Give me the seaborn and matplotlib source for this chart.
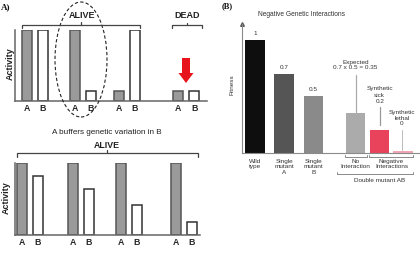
import matplotlib
matplotlib.use("Agg")
import matplotlib.pyplot as plt
import seaborn as sns
import pandas as pd
import numpy as np
from matplotlib.patches import Ellipse, Polygon
from matplotlib.lines import Line2D

# ---------------- data ----------------
genes = ["A", "B"]
top_A = [1.0, 1.0, 0.14, 0.14]
top_B = [1.0, 0.14, 1.0, 0.14]
bot_A = [1.0, 1.0, 1.0, 1.0]
bot_B = [0.82, 0.64, 0.42, 0.18]

b_labels = ["Wild\ntype", "Single\nmutant\nA", "Single\nmutant\nB",
            "No\nInteraction", "Synthetic sick", "Synthetic lethal"]
b_values = [1.0, 0.7, 0.5, 0.35, 0.2, 0.0]
b_value_text = ["1", "0.7", "0.5", "0.35", "0.2", "0"]

# ---------------- layout (not data) ----------------
top_pair_pos = [0.0, 1.04, 2.0, 3.29]
bot_pair_pos = [0.0, 0.99, 1.93, 3.0]
b_pos = [0.0, 1.0, 2.02, 3.47, 4.30, 5.11]

W, H = 420, 259
sns.set_theme(style="white")
plt.rcParams["font.family"] = ["Liberation Sans", "DejaVu Sans"]

fig = plt.figure(figsize=(W / 100, H / 100), dpi=100)


def rect(x0, y0, x1, y1):
    return [x0 / W, 1 - y1 / H, (x1 - x0) / W, (y1 - y0) / H]


def fx(px):
    return px / W


def fy(py):
    return 1 - py / H


def pair_frame(pair_pos, a_vals, b_vals, off):
    rows = []
    for p, a, b in zip(pair_pos, a_vals, b_vals):
        rows.append({"x": p - off, "gene": "A", "activity": a})
        rows.append({"x": p + off, "gene": "B", "activity": b})
    return pd.DataFrame(rows)


def draw_pairs(ax, df, width):
    sns.barplot(data=df, x="x", y="activity", hue="gene", native_scale=True,
                dodge=False, palette={"A": "#9a9a9a", "B": "white"},
                saturation=1, width=width, errorbar=None, legend=False,
                linewidth=1.1, edgecolor="#444444", ax=ax)
    for p in ax.patches:
        fc = p.get_facecolor()
        p.set_edgecolor("#555555" if fc[0] < 0.9 else "#333333")
    ax.set_xticks(df["x"].tolist(), labels=df["gene"].tolist())
    ax.tick_params(axis="x", length=0, pad=2.2, labelsize=6.3)
    for t in ax.get_xticklabels():
        t.set_fontweight("bold")
    ax.set_yticks([])
    ax.set_xlabel("")
    ax.set_ylabel("")
    for s in ["top", "right"]:
        ax.spines[s].set_visible(False)
    for s in ["left", "bottom"]:
        ax.spines[s].set_color("#666666")
        ax.spines[s].set_linewidth(1.1)


# ---------------- Panel A top ----------------
axT = fig.add_axes(rect(15, 30, 207, 101))
dfT = pair_frame(top_pair_pos, top_A, top_B, 0.174)
draw_pairs(axT, dfT, 0.62)
axT.set_xlim(-0.435, 3.74)
axT.set_ylim(0, 1.0)

# ---------------- Panel A bottom ----------------
axBt = fig.add_axes(rect(15, 163, 200, 235))
dfB = pair_frame(bot_pair_pos, bot_A, bot_B, 0.157)
draw_pairs(axBt, dfB, 0.62)
axBt.set_xlim(-0.29, 3.32)
axBt.set_ylim(0, 1.0)

# Activity labels
for yc, xc in [(64, 10.5), (198, 6.5)]:
    fig.text(fx(xc), fy(yc), "Activity", rotation=90, ha="center", va="center",
             fontsize=6.5, fontweight="bold", color="#222222")

# Panel A annotations
fig.text(fx(1), fy(7), "A)", fontsize=6.5, fontweight="bold",
         family="Liberation Serif", ha="left", va="center", color="#111111")


def bracket(x0, x1, y, drop=3, rise=3, color="#444444", lw=0.9):
    xm = (x0 + x1) / 2
    fig.add_artist(Line2D([fx(x0), fx(x0), fx(x1), fx(x1)],
                          [fy(y + drop), fy(y), fy(y), fy(y + drop)],
                          color=color, lw=lw, transform=fig.transFigure))
    fig.add_artist(Line2D([fx(xm), fx(xm)], [fy(y), fy(y - rise)],
                          color=color, lw=lw, transform=fig.transFigure))


fig.text(fx(82), fy(15), "ALIVE", fontsize=6.5, fontweight="bold",
         ha="center", va="center", color="#222222")
bracket(22, 140, 25)
fig.text(fx(187), fy(15), "DEAD", fontsize=6.5, fontweight="bold",
         ha="center", va="center", color="#222222")
bracket(172, 202, 25, drop=2.5, rise=2.5)

fig.add_artist(Ellipse((fx(81), fy(59.5)), 52 / W, 115 / H, fill=False,
                       ls=(0, (3, 2)), lw=0.8, ec="#222222",
                       transform=fig.transFigure))

arrow_px = [(182, 58), (190, 58), (190, 73), (193.5, 73), (186, 83),
            (178.5, 73), (182, 73)]
fig.add_artist(Polygon([(fx(x), fy(y)) for x, y in arrow_px], closed=True,
                       fc="#e8141b", ec="none", transform=fig.transFigure))

fig.text(fx(107), fy(132), "A buffers genetic variation in B", fontsize=5.9,
         ha="center", va="center", color="#222222")
fig.text(fx(107), fy(145), "ALIVE", fontsize=6.3, fontweight="bold",
         ha="center", va="center", color="#222222")
bracket(17, 198, 153, drop=3.5, rise=3)

# ---------------- Panel B ----------------
axR = fig.add_axes(rect(242, 24, 420, 153))
dfR = pd.DataFrame({"x": b_pos, "fitness": [max(v, 0.015) for v in b_values],
                    "label": b_labels})
b_colors = ["#0e0e0e", "#555555", "#8a8a8a", "#ababab", "#e8435a", "#f2a6b6"]
sns.barplot(data=dfR, x="x", y="fitness", hue="label", native_scale=True,
            dodge=False, palette=dict(zip(b_labels, b_colors)), saturation=1,
            width=0.83, errorbar=None, legend=False, linewidth=0, ax=axR)
axR.set_xlim(-0.45, 5.69)
axR.set_ylim(0, 1.14)
axR.set_yticks([])
axR.set_xlabel("")
axR.set_ylabel("")
for s in ["top", "right"]:
    axR.spines[s].set_visible(False)
for s in ["left", "bottom"]:
    axR.spines[s].set_color("#8a8a8a")
    axR.spines[s].set_linewidth(0.8)
axR.plot([0], [1], marker="^", ms=2.6, color="#555555",
         transform=axR.transAxes, clip_on=False)

tick_pos = b_pos[:4] + [(b_pos[4] + b_pos[5]) / 2]
tick_lab = b_labels[:4] + ["Negative\nInteractions"]
axR.set_xticks(tick_pos, labels=tick_lab)
axR.tick_params(axis="x", length=0, pad=4.5, labelsize=4.6, colors="#333333")
for t in axR.get_xticklabels():
    t.set_linespacing(1.05)

fs_b = 4.6
for i in range(3):
    axR.text(b_pos[i], b_values[i] + 0.035, b_value_text[i], ha="center",
             va="bottom", fontsize=fs_b, color="#333333")

axR.text(b_pos[3], 0.73, "Expected\n0.7 x 0.5 = 0.35", ha="center",
         va="bottom", fontsize=fs_b, color="#333333", linespacing=1.1)
axR.plot([b_pos[3], b_pos[3]], [0.36, 0.69], color="#aaaaaa", lw=0.9)

axR.text(b_pos[4], 0.435, "Synthetic\nsick\n" + b_value_text[4], ha="center",
         va="bottom", fontsize=fs_b, color="#333333", linespacing=1.3)
axR.plot([b_pos[4], b_pos[4]], [0.25, 0.405], color="#999999", lw=0.9)

axR.text(b_pos[5] - 0.04, 0.235, "Synthetic\nlethal\n" + b_value_text[5],
         ha="center", va="bottom", fontsize=fs_b, color="#333333",
         linespacing=1.2)
axR.plot([b_pos[5] - 0.04, b_pos[5] - 0.04], [0.03, 0.2], color="#bbbbbb",
         lw=0.7)

fig.text(fx(232), fy(85), "Fitness", rotation=90, ha="center", va="center",
         fontsize=fs_b, color="#333333")
fig.text(fx(222), fy(6), "(B)", fontsize=6, fontweight="bold",
         family="Liberation Serif", ha="left", va="center", color="#111111")
fig.text(fx(302), fy(15), "Negative Genetic Interactions", fontsize=4.8,
         ha="center", va="center", color="#333333")

# small brackets under double-mutant bars
bracket(345, 367, 157, drop=-2.5, rise=0, color="#777777", lw=0.6)
bracket(369, 413, 157, drop=-2.5, rise=0, color="#777777", lw=0.6)
bracket(337, 413, 174, drop=-2.5, rise=0, color="#777777", lw=0.6)
fig.text(fx(380), fy(180), "Double mutant AB", fontsize=fs_b, ha="center",
         va="center", color="#333333")

fig.savefig("out.png", dpi=100)
